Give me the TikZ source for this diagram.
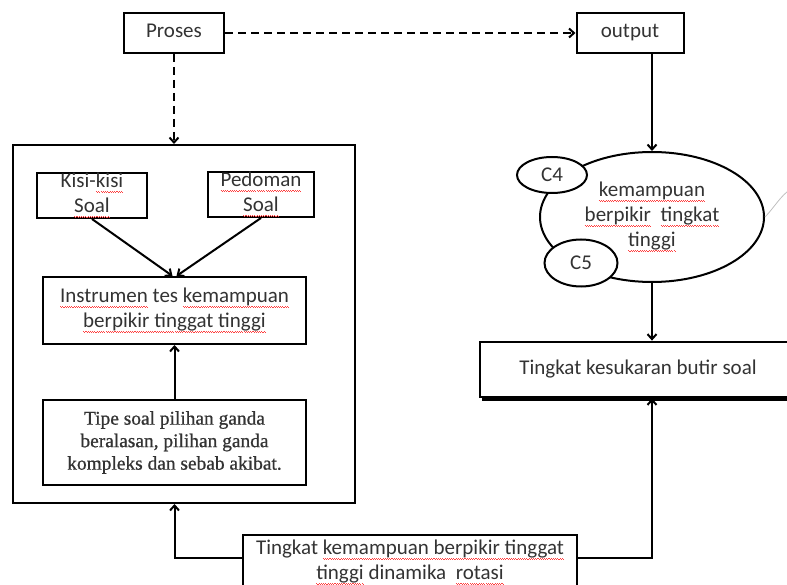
\documentclass[tikz,border=0pt]{standalone}
\usepackage{fontspec}
\setmainfont{Carlito}
\newfontfamily\tipefont[FakeBold=0.8]{Liberation Serif}
\usetikzlibrary{positioning, shapes, arrows.meta, shadows}

% garis merah bergelombang
\newcommand\salah[1]{\setbox0\hbox{#1}\rlap{\hbox to\wd0{\color{red!75}\xleaders\hbox{\rule[-4.6pt]{1.1pt}{0.7pt}\rule[-5.4pt]{1.1pt}{0.7pt}}\hfill}}\box0\relax}

\tikzset{
  kotak/.style={draw, line width=2pt, align=center, inner sep=2pt},
  satu/.style={text height=15pt, text depth=5pt},
  panah/.style={-{Straight Barb[length=5pt,width=9pt]}, line width=2pt},
  putus/.style={panah, dash pattern=on 8pt off 5pt},
}

\begin{document}
\begin{tikzpicture}[x=1pt, y=-1pt, text=black!80,
    font=\fontsize{21}{25}\selectfont]
        \clip (0,0) rectangle (787,585);

        % atas
        \node[kotak, satu, minimum width=100, minimum height=40] (proses) at (174,33) {Proses};
        \node[kotak, satu, minimum width=107, minimum height=40] (output) at (630,33) {output};

        % kotak kiri
        \node[kotak, minimum width=342, minimum height=358] (frame) at (184,324) {};
        \node[kotak, minimum width=110, minimum height=45, inner sep=0pt] (kisi) at (92,195.5) {Kisi-\salah{kisi}\\\salah{Soal}};
        \node[kotak, minimum width=106, minimum height=43, inner sep=0pt] (pedoman) at (261,194.5) {\salah{Pedoman}\\\salah{Soal}};
        \node[kotak, minimum width=263, minimum height=67] (instrumen) at (174.5,310.5) {\salah{Instrumen} tes \salah{kemampuan}\\\salah{berpikir tinggat tinggi}};
        \node[kotak, minimum width=263, minimum height=85, font={\tipefont\fontsize{19.4}{22.5}\selectfont}] (tipe) at (174.5,442.5) {Tipe soal pilihan ganda\\beralasan, pilihan ganda\\kompleks dan sebab akibat.};

        % kanan
        \node[draw, ellipse, line width=2pt, minimum width=224, minimum height=130, align=center] (awan) at (652,217) {\salah{kemampuan}\\\salah{berpikir}\ \ \salah{tingkat}\\\salah{tinggi}};
        \node[draw, ellipse, fill=white, line width=2pt, minimum width=70, minimum height=36, inner sep=0pt] (c4) at (552,175) {C4};
        \node[draw, ellipse, fill=white, line width=2pt, minimum width=73, minimum height=47, inner sep=0pt] (c5) at (581,263) {C5};
        \draw[gray!50, line width=0.8pt] (awan.east) .. controls +(8,-8) and +(-8,4) .. (790,190);

        \node[draw, line width=2.8pt, fill=white, minimum width=316, minimum height=55,
              drop shadow={shadow xshift=2pt, shadow yshift=-4pt, fill=black, opacity=1}] (sukar) at (638,369.5) {Tingkat kesukaran butir soal};

        % bawah
        \node[kotak, anchor=north, minimum width=334, minimum height=54] (dinamika) at (410,534) {Tingkat \salah{kemampuan berpikir tinggat}\\\salah{tinggi} dinamika\ \ \salah{rotasi}};

        % panah
        \draw[putus] (proses) -- (output);
        \draw[putus] (proses.south) -- (proses.south |- frame.north);
        \draw[panah] (output.south -| awan.north) -- (awan.north);
        \draw[panah] (kisi.south) -- ([xshift=-2pt]instrumen.north);
        \draw[panah] (pedoman.south) -- ([xshift=2pt]instrumen.north);
        \draw[panah] (tipe) -- (instrumen);
        \draw[panah] (awan.south) -- (awan.south |- sukar.north);
        \draw[panah] ([yshift=4pt]dinamika.west) -| (tipe.south |- frame.south);
        \draw[panah] ([yshift=4pt]dinamika.east) -| (awan.south |- sukar.south);
    \end{tikzpicture}
\end{document}
